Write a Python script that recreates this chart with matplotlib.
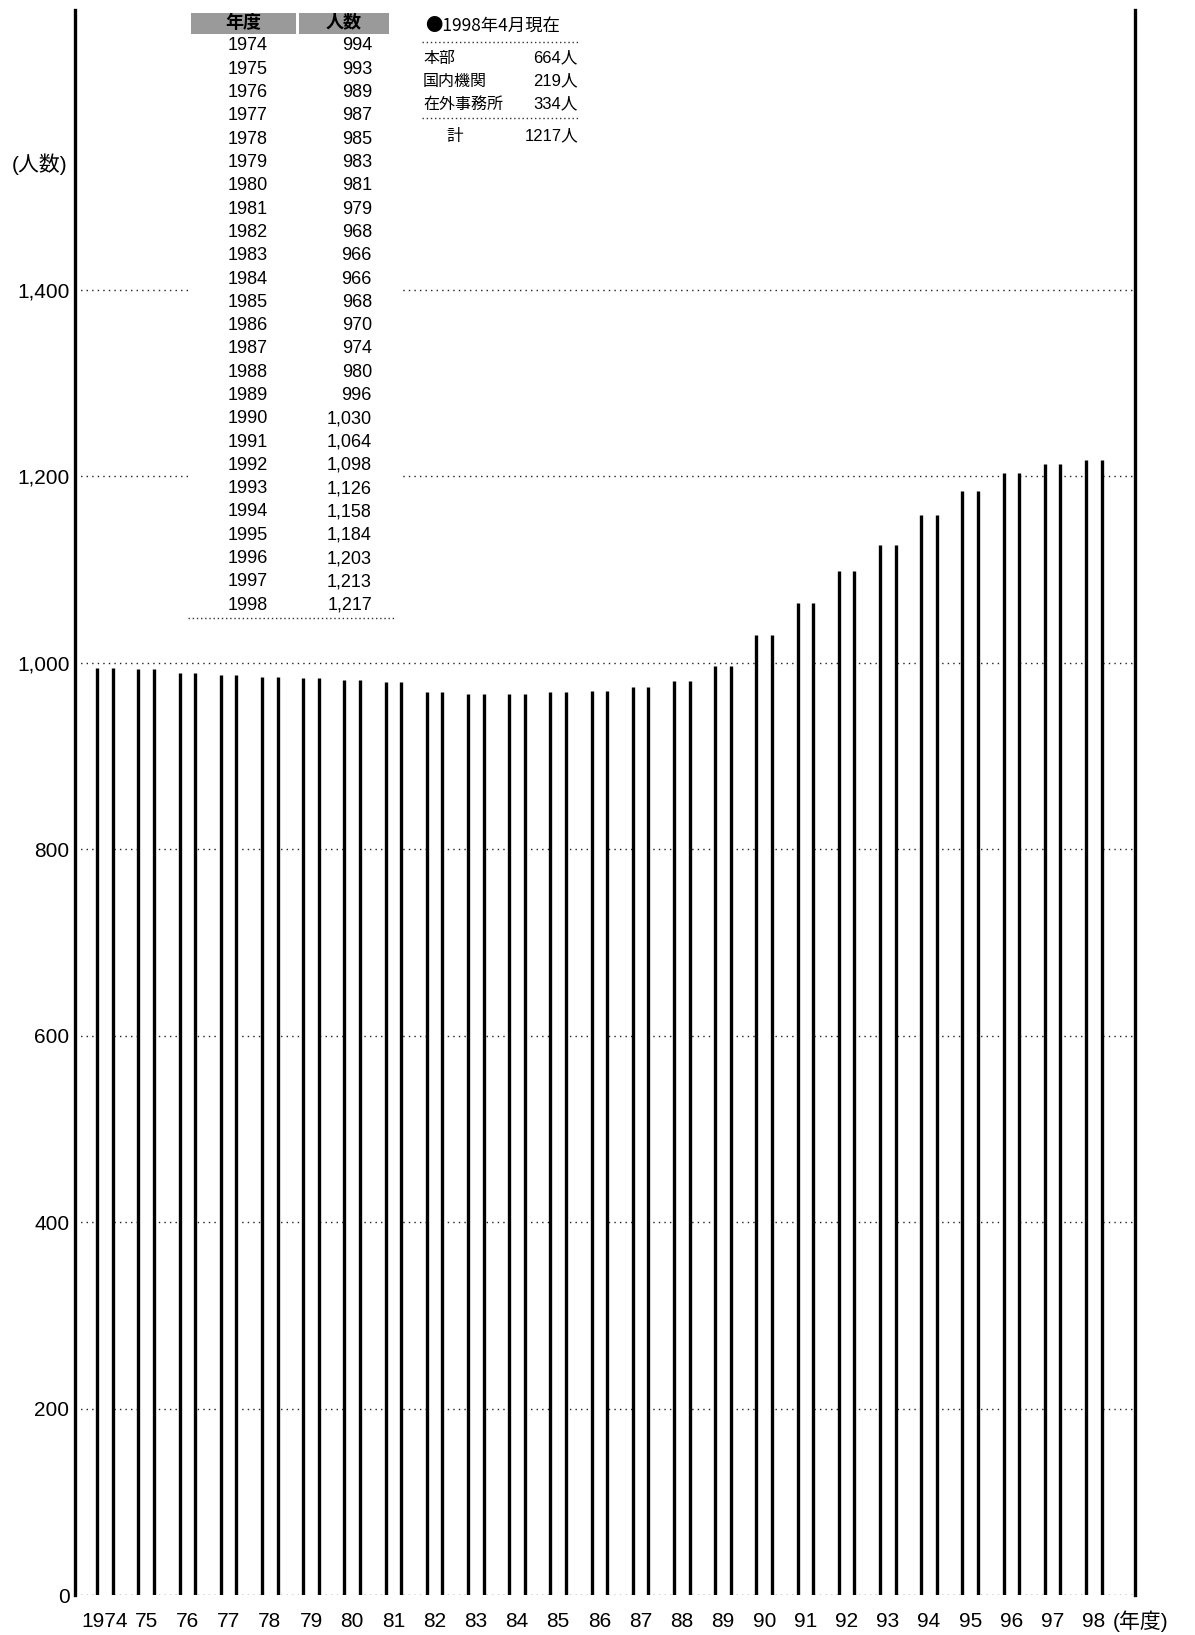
import matplotlib.pyplot as plt
from matplotlib.patches import Rectangle

# -------------------------------
# data
# -------------------------------
years = list(range(1974, 1999))
staff = [994, 993, 989, 987, 985, 983, 981, 979, 968, 966, 966, 968, 970,
         974, 980, 996, 1030, 1064, 1098, 1126, 1158, 1184, 1203, 1213, 1217]
year_labels = ['1974'] + [str(y)[2:] for y in years[1:]]
table_header = ['年度', '人数']

breakdown_title = '●1998年4月現在'
breakdown_names = ['本部', '国内機関', '在外事務所']
breakdown_values = [664, 219, 334]
breakdown_total = 1217

yticks = [0, 200, 400, 600, 800, 1000, 1200, 1400]

FAM = ['Liberation Sans', 'Noto Sans CJK JP', 'DejaVu Sans']
plt.rcParams['font.family'] = FAM

W, H = 1195, 1635
fig = plt.figure(figsize=(W / 100, H / 100), dpi=100)
ax = fig.add_axes([75 / W, 40 / H, 1060 / W, 1585 / H])

x = list(range(len(years)))
bw = 0.38

ax.set_xlim(-0.73, 25.0)
ax.set_ylim(0, 1700)

# dotted grid
for v in yticks:
    ax.axhline(v, color='#222222', lw=1.0, ls=(0, (1, 3)), zorder=1)

# hollow bars: white body, only side edges drawn
ax.bar(x, staff, width=bw, color='white', edgecolor='none', zorder=2)
ax.vlines([xi - bw / 2 for xi in x], 0, staff, color='black', lw=2.4, zorder=3)
ax.vlines([xi + bw / 2 for xi in x], 0, staff, color='black', lw=2.4, zorder=3)

for s in ['top', 'bottom']:
    ax.spines[s].set_visible(False)
ax.spines['left'].set_linewidth(2.4)
ax.spines['right'].set_linewidth(2.4)

ax.set_yticks(yticks)
ax.set_yticklabels([f'{v:,}' for v in yticks], fontsize=15)
ax.set_xticks(x)
ax.set_xticklabels(year_labels, fontsize=15)
ax.tick_params(axis='both', length=0)
ax.tick_params(axis='y', pad=4)
ax.tick_params(axis='x', pad=12)

fig.text(40 / W, 1 - 164 / H, '(人数)', ha='center', va='center', fontsize=15)
fig.text(1113 / W, 1 - 1621 / H, '(年度)', ha='left', va='center', fontsize=15)

# -------------------------------
# table of values (upper left)
# -------------------------------
def fx(px):
    return px / W

def fy(py):
    return 1 - py / H

fig.patches.append(Rectangle((fx(188), fy(618)), fx(400) - fx(188), fy(6) - fy(618),
                             transform=fig.transFigure, facecolor='white',
                             edgecolor='none', zorder=4))
fig.patches.append(Rectangle((fx(191), fy(34)), fx(296) - fx(191), fy(13) - fy(34),
                             transform=fig.transFigure, facecolor='#9a9a9a',
                             edgecolor='none', zorder=5))
fig.patches.append(Rectangle((fx(299), fy(34)), fx(389) - fx(299), fy(13) - fy(34),
                             transform=fig.transFigure, facecolor='#9a9a9a',
                             edgecolor='none', zorder=5))
fig.text(fx(243), fy(23), table_header[0], ha='center', va='center', fontsize=13,
         fontweight='bold', zorder=6)
fig.text(fx(344), fy(23), table_header[1], ha='center', va='center', fontsize=13,
         fontweight='bold', zorder=6)

row0, dy = 46, 23.3
for i, (yr, v) in enumerate(zip(years, staff)):
    yy = fy(row0 + i * dy)
    fig.text(fx(248), yy, str(yr), ha='center', va='center', fontsize=13, zorder=6)
    fig.text(fx(372), yy, f'{v:,}', ha='right', va='center', fontsize=13, zorder=6)

fig.lines.append(plt.Line2D([fx(188), fx(396)], [fy(618), fy(618)],
                            transform=fig.transFigure, color='#333333', lw=1.0,
                            ls=(0, (1, 2)), zorder=6))

# -------------------------------
# breakdown box
# -------------------------------
fig.patches.append(Rectangle((fx(415), fy(150)), fx(585) - fx(415), fy(10) - fy(150),
                             transform=fig.transFigure, facecolor='white',
                             edgecolor='none', zorder=4))
fig.text(fx(425), fy(26), breakdown_title, ha='left', va='center', fontsize=12.5,
         family=['Noto Sans CJK JP', 'DejaVu Sans'], zorder=6)
fig.lines.append(plt.Line2D([fx(422), fx(578)], [fy(42), fy(42)],
                            transform=fig.transFigure, color='#333333', lw=1.0,
                            ls=(0, (1, 2)), zorder=6))
for i, (nm, v) in enumerate(zip(breakdown_names, breakdown_values)):
    yy = fy(58 + i * 23)
    fig.text(fx(423), yy, nm, ha='left', va='center', fontsize=11.5, zorder=6)
    fig.text(fx(578), yy, f'{v}人', ha='right', va='center', fontsize=12, zorder=6)
fig.lines.append(plt.Line2D([fx(422), fx(578)], [fy(118), fy(118)],
                            transform=fig.transFigure, color='#333333', lw=1.0,
                            ls=(0, (1, 2)), zorder=6))
fig.text(fx(455), fy(136), '計', ha='center', va='center', fontsize=12, zorder=6)
fig.text(fx(578), fy(136), f'{breakdown_total}人', ha='right', va='center',
         fontsize=12, zorder=6)

fig.savefig('out.png', dpi=100)
